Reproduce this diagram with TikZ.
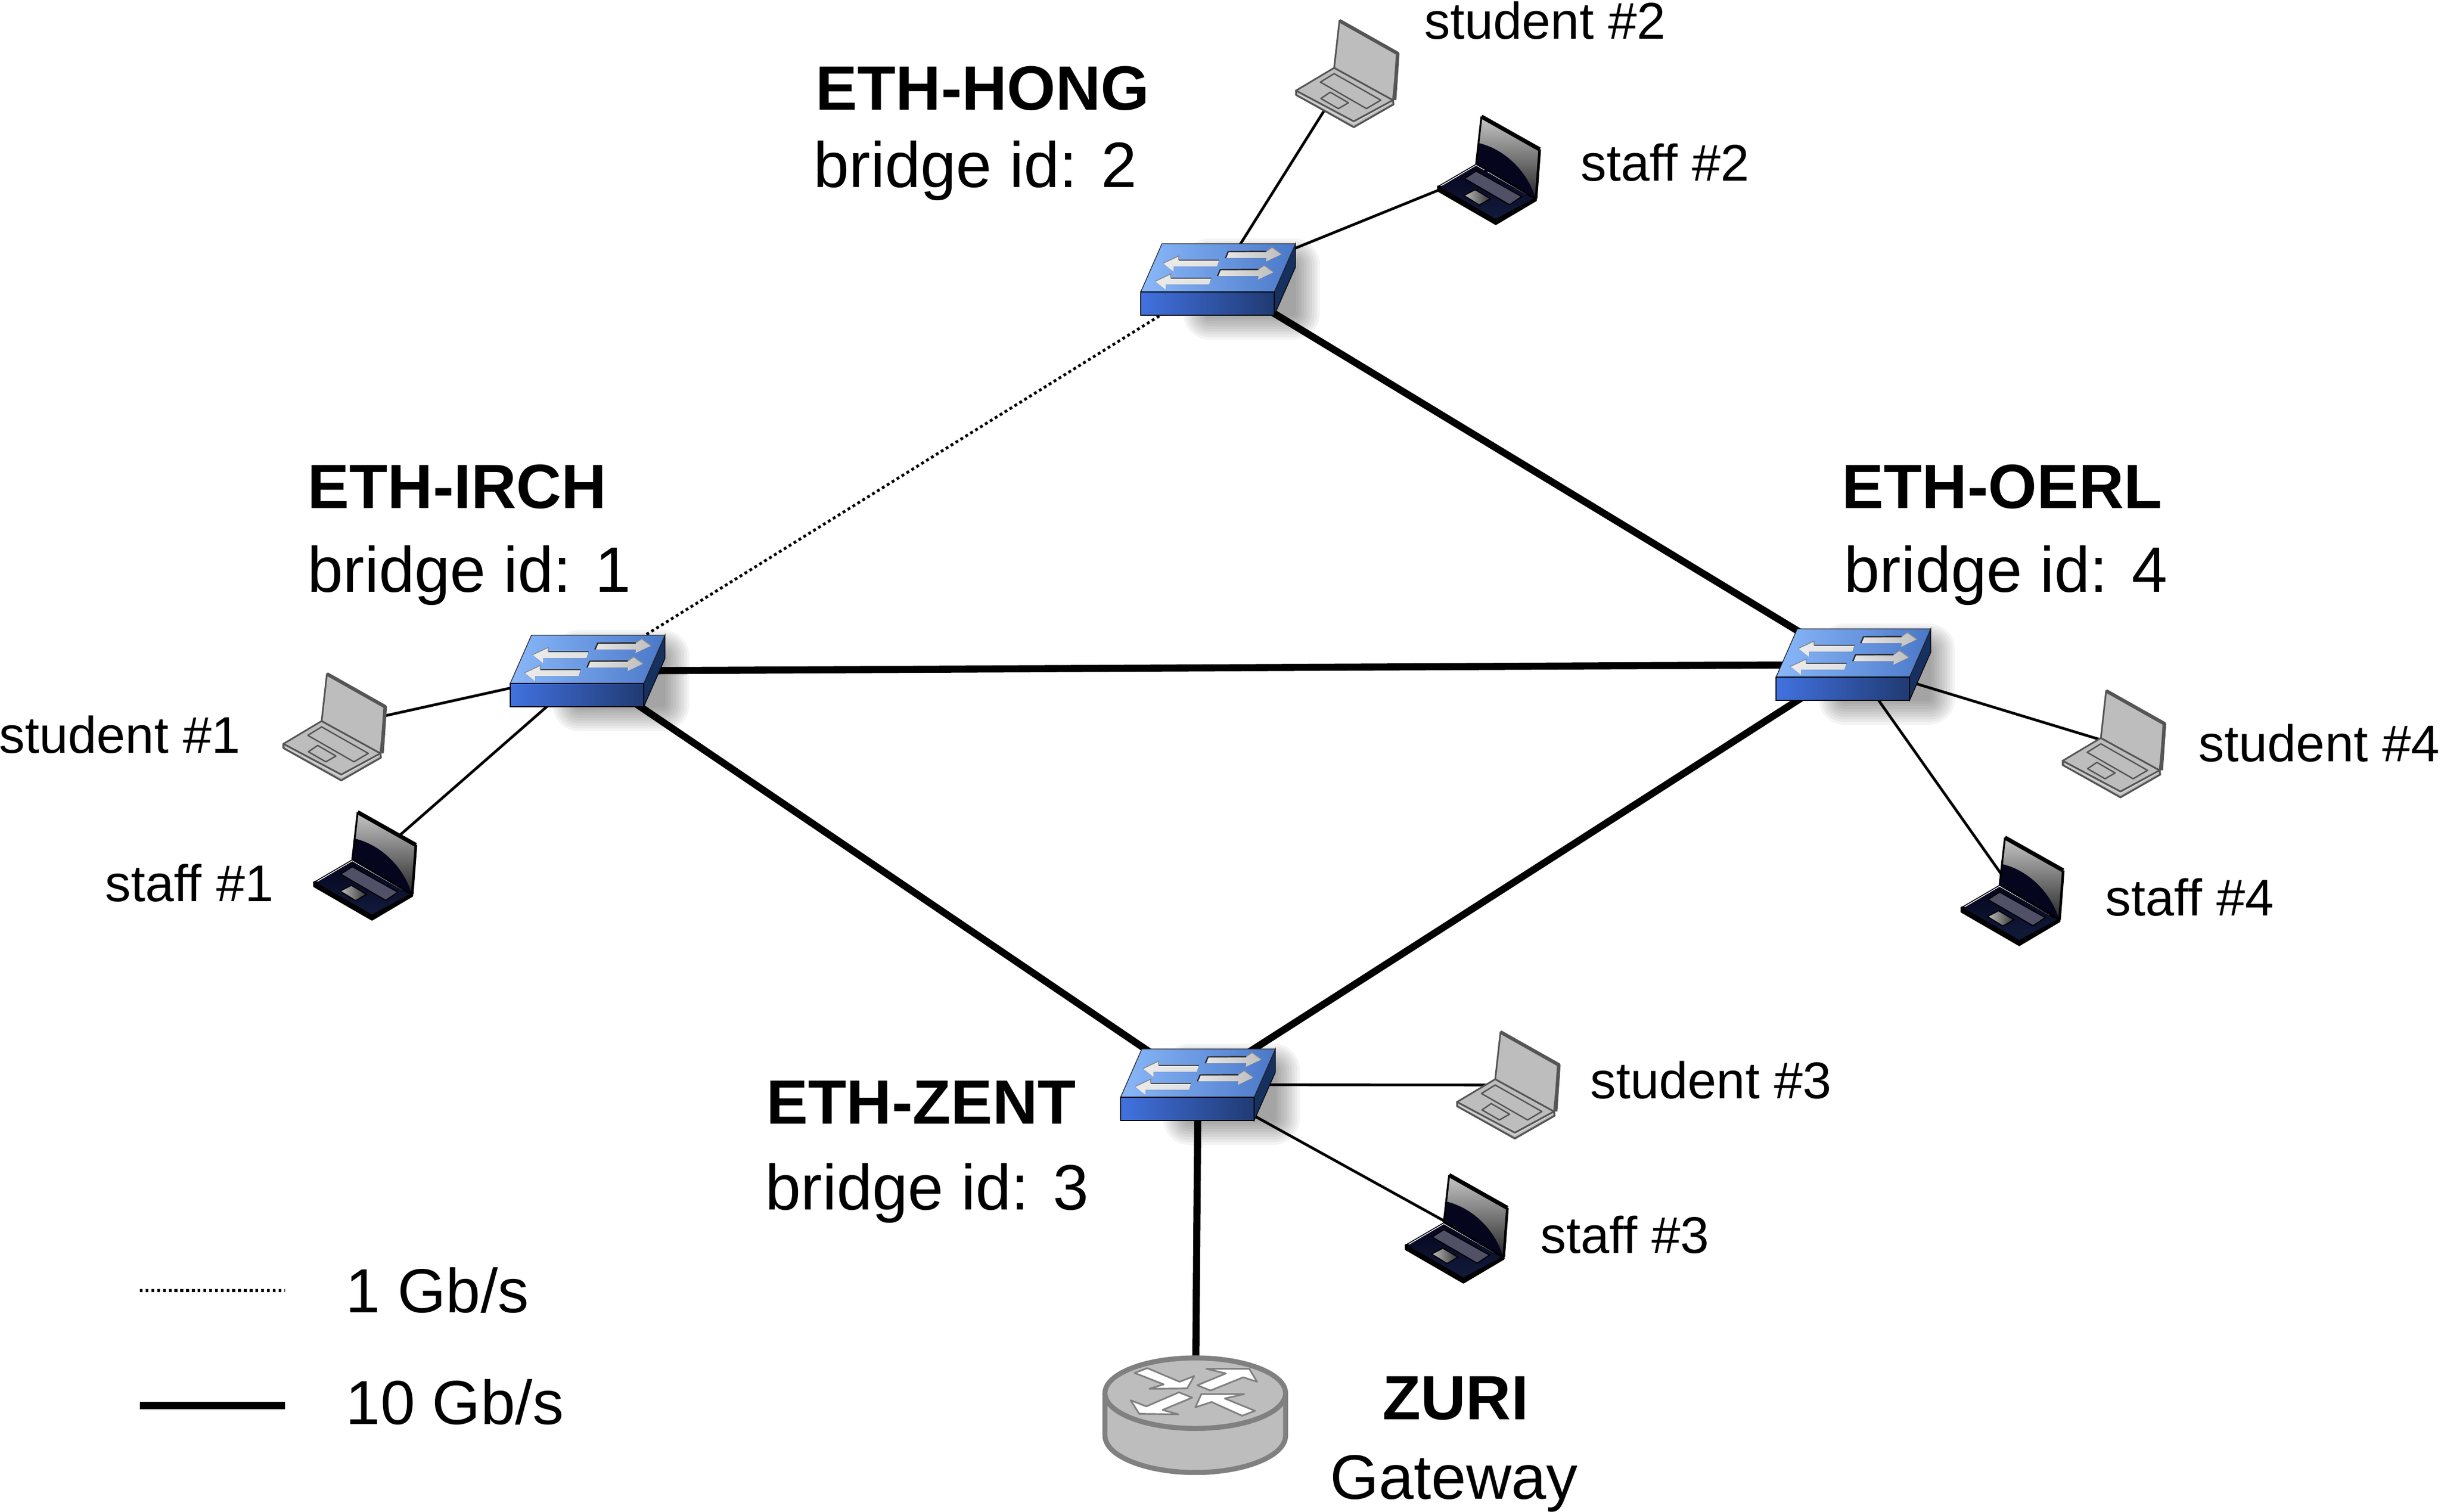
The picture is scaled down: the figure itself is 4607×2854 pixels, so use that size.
\documentclass[tikz,border=0pt]{standalone}
\usepackage{fontspec}
\setmainfont{Liberation Sans}
\definecolor{lapgray}{HTML}{BDBDBD}
\definecolor{lapedge}{HTML}{555555}
\definecolor{navyA}{HTML}{05051E}
\definecolor{navyB}{HTML}{121B3C}
\definecolor{rtgray}{HTML}{808080}
\definecolor{topL}{HTML}{8AB8FA}
\definecolor{topM}{HTML}{74A2EA}
\definecolor{topR}{HTML}{4A78C8}
\definecolor{frontL}{HTML}{4272E0}
\definecolor{frontR}{HTML}{203A72}
\definecolor{sideC}{HTML}{16305F}
\tikzset{
  hub/.style={inner sep=0pt,minimum size=2pt,fill=none,draw=none},
  thinlink/.style={line width=1.45pt,black},
  thicklink/.style={line width=3.8pt,black},
  dotlink/.style={line width=1.5pt,black,dash pattern=on 1.55pt off 1.55pt},
  title/.style={anchor=base west,font=\fontsize{33.6}{38}\selectfont\bfseries,inner sep=0pt},
  titlec/.style={anchor=base,font=\fontsize{33.6}{38}\selectfont\bfseries,inner sep=0pt},
  sub/.style={anchor=base west,font=\fontsize{34.4}{38}\selectfont,inner sep=0pt},
  subc/.style={anchor=base,font=\fontsize{33.7}{38}\selectfont,inner sep=0pt},
  legendtext/.style={anchor=base west,font=\fontsize{33.4}{38}\selectfont,inner sep=0pt},
  host/.style={anchor=base west,font=\fontsize{27.7}{32}\selectfont,inner sep=0pt},
  switchicon/.pic={
    \begin{scope}[shift={(-146,67.5)}]
      % soft shadow
      \foreach \w in {50,45,40,35,30,25,20,15,10,5}{
        \fill[black,opacity=0.045,rounded corners=\w*0.28pt] (130-\w,-95-\w) rectangle (288+\w,-4+\w);
      }
      % side
      \filldraw[draw=black,line width=0.4pt,fill=sideC] (252,0) -- (292,-91) -- (292,-135) -- (252,-44) -- cycle;
      % top
      \filldraw[draw=black!85,line width=0.4pt,left color=topL,middle color=topM,right color=topR]
        (0,-44) -- (40,-135) -- (292,-135) -- (252,-44) -- cycle;
      % front
      \filldraw[draw=black,line width=0.4pt,left color=frontL,right color=frontR] (0,0) rectangle (252,-44);
      % arrows
      \foreach \dx/\dy in {0/0,-15/34}{
        \begin{scope}[shift={(\dx,\dy)}]
          \fill[left color=white!90!black,right color=black!25]
            (165,-120) -- (237,-120.5) -- (248,-128) -- (266,-115) -- (236,-101) -- (237,-108) -- (160,-108) -- cycle;
          \draw[line width=0.7pt,black!85] (160,-108) -- (165,-120) -- (237,-120.5);
          \draw[line width=0.4pt,black!45] (237,-120.5) -- (248,-128) -- (266,-115);
          \fill[left color=white!92!black,right color=black!12]
            (42,-98) -- (72,-112) -- (71.5,-104) -- (148,-104) -- (144,-92) -- (62,-92) -- (62,-82) -- cycle;
          \draw[line width=0.7pt,black!75] (71.5,-104) -- (148,-104);
          \draw[line width=0.4pt,black!50] (42,-98) -- (72,-112) -- (71.5,-104);
        \end{scope}
      }
    \end{scope}
  },
  graylaptop/.pic={
    \begin{scope}[shift={(-15,-100)},line join=round]
      \filldraw[fill=lapgray,draw=lapedge,line width=1pt] (-82,132) -- (-82,140) -- (27,201) -- (102,158) -- (101,150) -- cycle;
      \draw[white!85!black,line width=0.45pt] (-78,139) -- (27,194) -- (98,154);
      \filldraw[fill=lapgray,draw=lapedge,line width=0.9pt] (-82,132) -- (-10,89) -- (101,150) -- (27,190) -- cycle;
      \draw[lapedge,line width=0.75pt] (-10,100) -- (78,150) -- (51,166) -- (-36,116) -- cycle;
      \draw[lapedge,line width=0.75pt] (-17.5,135) -- (17,155) -- (-2,166) -- (-35,147) -- cycle;
      \filldraw[fill=lapgray,draw=lapedge,line width=0.9pt] (0,0) -- (110,62) -- (101,150) -- (-10,89) -- cycle;
      \draw[lapedge,line width=1.9pt] (0,0) -- (110,62) -- (104,150);
    \end{scope}
  },
  darklaptop/.pic={
    \begin{scope}[shift={(-15,-100)},line join=round]
      \filldraw[fill=black,draw=black,line width=1pt] (-82,132) -- (-82,140) -- (27,203) -- (103,158) -- (102,150) -- cycle;
      \fill[top color=navyA,bottom color=navyB] (-78,133) -- (-10,93) -- (98,155) -- (27,193) -- cycle;
      \draw[black,line width=0.5pt] (-82,132) -- (-10,90) -- (102,155);
      \filldraw[fill=black!35!blue!30!white!45!black,draw=black,line width=0.6pt] (-10,103) -- (76,151) -- (53,166.5) -- (-32,117) -- cycle;
      \filldraw[left color=black!25,right color=black!80,draw=black,line width=0.6pt] (-12,138) -- (17,155) -- (-4,167) -- (-33,149) -- cycle;
      \fill[top color=black!22,bottom color=black!85] (0,0) -- (110,62) -- (102,155) -- (-10,89) -- cycle;
      \fill[navyA] (-5,50) .. controls (45,62) and (88,105) .. (102,155) -- (-10,89) -- cycle;
      \draw[black,line width=2.2pt] (0,0) -- (110,62);
      \draw[black,line width=1.4pt] (110,62) -- (103,155);
      \draw[black,line width=1pt] (0,0) -- (-10,89) -- (102,155);
    \end{scope}
  },
  routericon/.pic={
    \begin{scope}[shift={(-306,-222)},x=0.0038462cm,y=-0.0033333cm,line join=round]
      \filldraw[fill=lapgray,draw=rtgray,line width=2.7pt]
        (352,540) -- (352,780) .. controls (352,900) and (560,990) .. (795,990) .. controls (1030,990) and (1238,900) .. (1238,780) -- (1238,540) -- cycle;
      \filldraw[fill=lapgray,draw=rtgray,line width=2.7pt] (795,540) ellipse [x radius=443,y radius=200];
      \filldraw[fill=white,draw=rtgray,line width=0.9pt] (497,425) -- (560,398) -- (718,475) -- (790,443) -- (755,513) -- (570,515) -- (640,490) -- cycle;
      \filldraw[fill=white,draw=rtgray,line width=0.9pt] (805,495) -- (945,428) -- (850,402) -- (1060,402) -- (1098,475) -- (1030,450) -- (870,525) -- cycle;
      \filldraw[fill=white,draw=rtgray,line width=0.9pt] (780,565) -- (715,535) -- (555,615) -- (478,580) -- (520,657) -- (712,660) -- (635,635) -- cycle;
      \filldraw[fill=white,draw=rtgray,line width=0.9pt] (1088,640) -- (1025,668) -- (875,590) -- (795,620) -- (825,545) -- (1035,545) -- (940,570) -- cycle;
    \end{scope}
  }
}
\begin{document}
\begin{tikzpicture}[x=0.01cm,y=-0.01cm]
\useasboundingbox (0,0) rectangle (4607,2854);
% anchors
\node[hub] (irch) at (1109,1266.5) {};
\node[hub] (hong) at (2299,527.5) {};
\node[hub] (oerl) at (3498,1254.5) {};
\node[hub] (zent) at (2261,2047.5) {};
\node[hub] (zuri) at (2256,2672) {};
\node[hub] (stu1) at (632,1372) {};
\node[hub] (sta1) at (690,1633) {};
\node[hub] (stu2) at (2543,139) {};
\node[hub] (sta2) at (2811,320) {};
\node[hub] (stu3) at (2847,2048) {};
\node[hub] (sta3) at (2750,2318) {};
\node[hub] (stu4) at (3990,1404) {};
\node[hub] (sta4) at (3799,1681) {};
\coordinate (ld1) at (264,2436);
\coordinate (ld2) at (538,2436);
\coordinate (lt1) at (264,2653);
\coordinate (lt2) at (538,2653);
% links
\draw[dotlink] (irch.center) -- (hong.center);
\draw[thicklink] (hong.center) -- (oerl.center);
\draw[thicklink] (irch.center) -- (oerl.center);
\draw[thicklink] (irch.center) -- (zent.center);
\draw[thicklink] (oerl.center) -- (zent.center);
\draw[thicklink] (zent.center) -- (zuri.center);
\draw[thinlink] (irch.center) -- (stu1.center);
\draw[thinlink] (irch.center) -- (sta1.center);
\draw[thinlink] (hong.center) -- (stu2.center);
\draw[thinlink] (hong.center) -- (sta2.center);
\draw[thinlink] (zent.center) -- (stu3.center);
\draw[thinlink] (zent.center) -- (sta3.center);
\draw[thinlink] (oerl.center) -- (stu4.center);
\draw[thinlink] (oerl.center) -- (sta4.center);
\draw[dotlink] (ld1) -- (ld2);
\draw[thicklink] (lt1) -- (lt2);
% icons
\pic at (irch.center) {switchicon};
\pic at (hong.center) {switchicon};
\pic at (oerl.center) {switchicon};
\pic at (zent.center) {switchicon};
\pic at (zuri.center) {routericon};
\pic at (stu1.center) {graylaptop};
\pic at (stu2.center) {graylaptop};
\pic at (stu3.center) {graylaptop};
\pic at (stu4.center) {graylaptop};
\pic at (sta1.center) {darklaptop};
\pic at (sta2.center) {darklaptop};
\pic at (sta3.center) {darklaptop};
\pic at (sta4.center) {darklaptop};
% labels
\node[title] (t1) at (1539,207) {ETH-HONG};
\node[sub] (b2) at (1535,353) {bridge id: 2};
\node[title] (t2) at (580,959) {ETH-IRCH};
\node[sub] (b1) at (580,1117) {bridge id: 1};
\node[title] (t3) at (3476,959) {ETH-OERL};
\node[sub] (b4) at (3480,1117) {bridge id: 4};
\node[title] (t4) at (1446,2121) {ETH-ZENT};
\node[sub] (b3) at (1444,2283) {bridge id: 3};
\node[titlec] (t5) at (2747,2679) {ZURI};
\node[subc] (g) at (2744,2829) {Gateway};
\node[host] (h1) at (-2,1421) {student \#1};
\node[host] (h2) at (198,1701) {staff \#1};
\node[host] (h3) at (2688,73) {student \#2};
\node[host] (h4) at (2983,341) {staff \#2};
\node[host] (h5) at (3001,2073) {student \#3};
\node[host] (h6) at (2907,2365) {staff \#3};
\node[host] (h7) at (4149,1437) {student \#4};
\node[host] (h8) at (3973,1728) {staff \#4};
\node[legendtext] (l1) at (652,2477) {1 Gb/s};
\node[legendtext] (l2) at (652,2688) {10 Gb/s};
\end{tikzpicture}
\end{document}
